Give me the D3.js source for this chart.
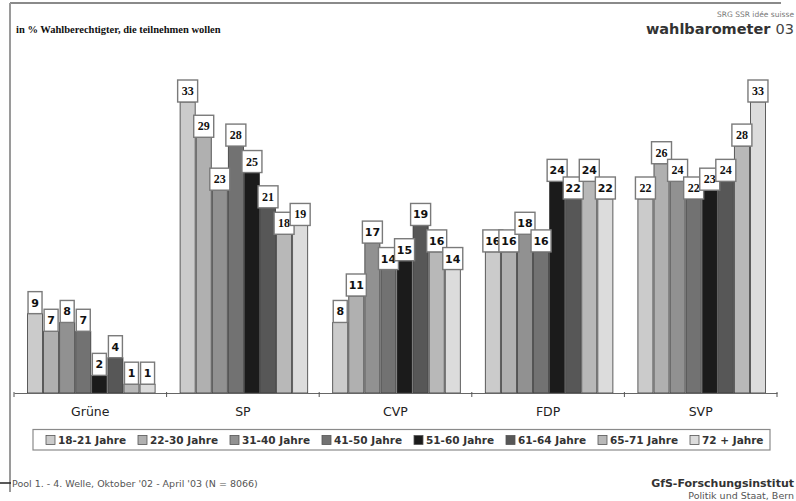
<!DOCTYPE html>
<html>
<head>
<meta charset="utf-8">
<script src="https://cdn.jsdelivr.net/npm/d3@7"></script>
<style>
  html, body { margin: 0; padding: 0; background: #fff; }
  svg { display: block; }
</style>
</head>
<body>
<svg id="chart" width="796" height="501"></svg>
<script>
// Parties and age groups
const parties = ["Grüne", "SP", "CVP", "FDP", "SVP"];
const ageGroups = ["18-21 Jahre", "22-30 Jahre", "31-40 Jahre", "41-50 Jahre",
                   "51-60 Jahre", "61-64 Jahre", "65-71 Jahre", "72 + Jahre"];

// Share of eligible voters intending to vote, per party and age group (%)
const gruene = [9, 7, 8, 7, 2, 4, 1, 1];
const sp     = [33, 29, 23, 28, 25, 21, 18, 19];
const cvp    = [8, 11, 17, 14, 15, 19, 16, 14];
const fdp    = [16, 16, 18, 16, 24, 22, 24, 22];
const svp    = [22, 26, 24, 22, 23, 24, 28, 33];

const seriesByParty = [gruene, sp, cvp, fdp, svp];

const ageColors = ["#cbcbcb", "#b0b0b0", "#919191", "#727272",
                   "#1b1b1b", "#575757", "#b8b8b8", "#dcdcdc"];

const svg = d3.select("#chart");

// Frame lines
svg.append("line").attr("x1", 10).attr("x2", 781).attr("y1", 3).attr("y2", 3)
  .attr("stroke", "#8a8a8a").attr("stroke-width", 2);
svg.append("line").attr("x1", 10).attr("x2", 10).attr("y1", 3).attr("y2", 492)
  .attr("stroke", "#9a9a9a").attr("stroke-width", 2);
svg.append("line").attr("x1", 0).attr("x2", 11).attr("y1", 483).attr("y2", 483)
  .attr("stroke", "#222").attr("stroke-width", 1.5);

// Header texts
svg.append("text").attr("x", 16).attr("y", 33)
  .attr("font-family", "Liberation Serif, serif").attr("font-weight", "bold")
  .attr("font-size", 10.5).attr("fill", "#111")
  .text("in % Wahlberechtigter, die teilnehmen wollen");

svg.append("text").attr("x", 794).attr("y", 17).attr("text-anchor", "end")
  .attr("font-family", "DejaVu Sans, sans-serif").attr("font-size", 7.5).attr("fill", "#777")
  .text("SRG SSR idée suisse");

const brand = svg.append("text").attr("x", 794).attr("y", 34).attr("text-anchor", "end")
  .attr("font-family", "DejaVu Sans, sans-serif").attr("font-size", 14.5).attr("fill", "#333");
brand.append("tspan").attr("font-weight", "bold").text("wahlbarometer ");
brand.append("tspan").attr("font-weight", "normal").attr("fill", "#444").text("03");

// Scales
const baseY = 393;
const y = d3.scaleLinear().domain([0, 33]).range([baseY, 102]);

const x0 = d3.scaleBand().domain(parties).range([14, 777]).padding(0);
const x1 = d3.scaleBand().domain(ageGroups).range([13, x0.bandwidth() - 11]).padding(0);
const color = d3.scaleOrdinal().domain(ageGroups).range(ageColors);

// Bars
const groups = svg.append("g").selectAll("g.party")
  .data(parties.map((p, i) => ({ party: p, values: seriesByParty[i] })))
  .join("g").attr("class", "party")
  .attr("transform", d => `translate(${x0(d.party)},0)`);

groups.selectAll("rect.bar")
  .data(d => d.values.map((v, j) => ({ age: ageGroups[j], value: v })))
  .join("rect").attr("class", "bar")
  .attr("x", d => x1(d.age) + 0.5)
  .attr("y", d => y(d.value))
  .attr("width", x1.bandwidth() - 1)
  .attr("height", d => baseY - y(d.value))
  .attr("fill", d => color(d.age))
  .attr("stroke", "#3a3a3a").attr("stroke-width", 0.8);

// Axis
const axis = d3.axisBottom(x0).tickSize(0).tickPadding(14);
const axisG = svg.append("g").attr("transform", `translate(0,${baseY})`).call(axis);
axisG.select(".domain").attr("stroke", "#666").attr("stroke-width", 1.2);
axisG.selectAll(".tick text")
  .attr("font-family", "DejaVu Sans, sans-serif").attr("font-size", 12.5).attr("fill", "#222");
// Group separators
const bounds = parties.map(p => x0(p)).concat([x0.range()[1]]);
svg.append("g").selectAll("line").data(bounds).join("line")
  .attr("x1", d => d).attr("x2", d => d)
  .attr("y1", baseY - 1).attr("y2", baseY + 4)
  .attr("stroke", "#555").attr("stroke-width", 1);

// Value label boxes (drawn after all bars, later ones on top)
const labelFont = { "SP": "Liberation Serif, serif", "SVP": "Liberation Serif, serif" };
groups.each(function (d) {
  const g = d3.select(this).append("g");
  d.values.forEach((v, j) => {
    const cx = x1(ageGroups[j]) + x1.bandwidth() / 2;
    const txt = String(v);
    const w = txt.length > 1 ? 20 : 14;
    const h = 22;
    const top = y(v) - h;
    g.append("rect")
      .attr("x", cx - w / 2).attr("y", top)
      .attr("width", w).attr("height", h)
      .attr("fill", "#fff").attr("stroke", "#7a7a7a").attr("stroke-width", 1.4);
    g.append("text")
      .attr("x", cx).attr("y", top + 15)
      .attr("text-anchor", "middle")
      .attr("font-family", labelFont[d.party] || "DejaVu Sans, sans-serif")
      .attr("font-weight", "bold")
      .attr("font-size", labelFont[d.party] ? 12 : 11)
      .attr("fill", "#111")
      .text(txt);
  });
});

// Legend
svg.append("rect").attr("x", 33).attr("y", 429.5).attr("width", 737).attr("height", 20.5)
  .attr("fill", "#fff").attr("stroke", "#8a8a8a").attr("stroke-width", 1.2);

const legendX = d3.scalePoint().domain(ageGroups).range([46, 690]);
const items = svg.append("g").selectAll("g").data(ageGroups).join("g")
  .attr("transform", d => `translate(${legendX(d)},440)`);
items.append("rect").attr("x", 0).attr("y", -4.5).attr("width", 9).attr("height", 9)
  .attr("fill", d => color(d)).attr("stroke", "#555").attr("stroke-width", 0.8);
items.append("text").attr("x", 12).attr("y", 4)
  .attr("font-family", "DejaVu Sans, sans-serif").attr("font-weight", "bold")
  .attr("font-size", 10.5).attr("fill", "#333")
  .text(d => d);

// Footer
svg.append("text").attr("x", 12).attr("y", 487)
  .attr("font-family", "DejaVu Sans, sans-serif").attr("font-size", 9.5).attr("fill", "#555")
  .text("Pool 1. - 4. Welle, Oktober '02 - April '03 (N = 8066)");

svg.append("text").attr("x", 794).attr("y", 487).attr("text-anchor", "end")
  .attr("font-family", "DejaVu Sans, sans-serif").attr("font-weight", "bold")
  .attr("font-size", 11).attr("fill", "#333")
  .text("GfS-Forschungsinstitut");
svg.append("text").attr("x", 794).attr("y", 499).attr("text-anchor", "end")
  .attr("font-family", "DejaVu Sans, sans-serif").attr("font-size", 9.5).attr("fill", "#555")
  .text("Politik und Staat, Bern");
</script>
</body>
</html>
